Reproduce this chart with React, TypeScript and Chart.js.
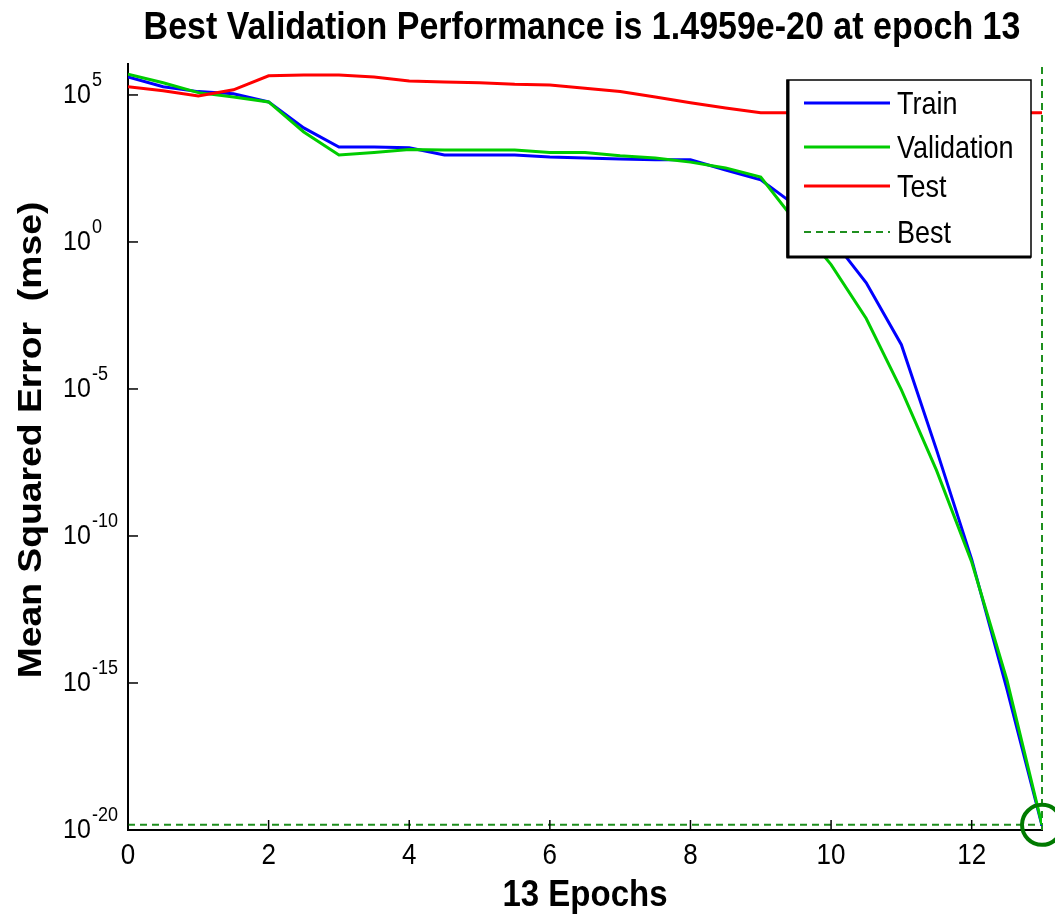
import React, { useEffect, useRef } from "react";
import { Chart, registerables } from "chart.js";

Chart.register(...registerables);

const epochs = [0, 0.5, 1, 1.5, 2, 2.5, 3, 3.5, 4, 4.5, 5, 5.5, 6, 6.5, 7, 7.5, 8, 8.5, 9, 9.5, 10, 10.5, 11, 11.5, 12, 12.5, 13];
const trainMse = [4.1e5, 1.9e5, 1.3e5, 1.1e5, 5.8e4, 7.6e3, 1.7e3, 1.7e3, 1.6e3, 9.1e2, 9.1e2, 9.1e2, 7.8e2, 7.2e2, 6.6e2, 6.3e2, 6.2e2, 2.8e2, 1.3e2, 17, 1.4, 4.1e-2, 3.2e-4, 8.5e-8, 1.6e-11, 6.3e-16, 1.4e-20];
const validationMse = [5.1e5, 2.6e5, 1.2e5, 8.5e4, 5.8e4, 5.5e3, 9.1e2, 1.1e3, 1.4e3, 1.35e3, 1.35e3, 1.35e3, 1.1e3, 1.1e3, 8.5e2, 7.2e2, 5.2e2, 3.3e2, 1.6e2, 4.8, 1.7e-1, 2.5e-3, 9.3e-6, 1.7e-8, 1.3e-11, 1.3e-15, 1.4959e-20];
const testMse = [1.9e5, 1.4e5, 9.3e4, 1.5e5, 4.5e5, 4.8e5, 4.8e5, 4.1e5, 3.0e5, 2.75e5, 2.6e5, 2.3e5, 2.2e5, 1.7e5, 1.3e5, 8.5e4, 5.4e4, 3.6e4, 2.5e4, 2.5e4, 2.5e4, 2.5e4, 2.5e4, 2.5e4, 2.5e4, 2.5e4, 2.5e4];
const bestEpoch = 13;
const bestPerf = 1.4959e-20;
const xTickValues = [0, 2, 4, 6, 8, 10, 12];
const yTickExponents = [5, 0, -5, -10, -15, -20];
const legendLabels = ["Train", "Validation", "Test", "Best"];
const titleText = "Best Validation Performance is 1.4959e-20 at epoch 13";
const xTitle = "13 Epochs";
const yTitle = "Mean Squared Error  (mse)";

const Y_MIN = 1e-20;
const Y_MAX = 1.13e6;
const SY = 1.13;
const FONT = '"Liberation Sans", Arial, sans-serif';

const BLUE = "#0000ff";
const GREEN = "#00cc00";
const RED = "#ff0000";
const BEST_GREEN = "#1f8f1f";
const CIRCLE_GREEN = "#007a00";

function txt(ctx: CanvasRenderingContext2D, s: string, x: number, y: number, font: string, align: CanvasTextAlign, baseline: CanvasTextBaseline, rotate = false) {
  ctx.save();
  ctx.translate(x, y);
  if (rotate) {
    ctx.rotate(-Math.PI / 2);
    ctx.scale(SY, 1);
  } else {
    ctx.scale(1, SY);
  }
  ctx.font = font;
  ctx.fillStyle = "#000";
  ctx.textAlign = align;
  ctx.textBaseline = baseline;
  ctx.fillText(s, 0, 0);
  ctx.restore();
}

const decorPlugin = {
  id: "decor",
  afterDraw(chart: any) {
    const ctx: CanvasRenderingContext2D = chart.ctx;
    const xs = chart.scales.x;
    const ys = chart.scales.y;
    const area = chart.chartArea;
    ctx.save();
    ctx.strokeStyle = "#000";
    ctx.lineWidth = 1.5;
    yTickExponents.forEach((e) => {
      const py = ys.getPixelForValue(Math.pow(10, e));
      ctx.beginPath();
      ctx.moveTo(area.left, py);
      ctx.lineTo(area.left + 10, py);
      ctx.stroke();
      txt(ctx, "10", 63, py, `25px ${FONT}`, "left", "middle");
      txt(ctx, String(e), 92, py - 9, `18px ${FONT}`, "left", "alphabetic");
    });
    xTickValues.forEach((v) => {
      const px = xs.getPixelForValue(v);
      ctx.beginPath();
      ctx.moveTo(px, area.bottom);
      ctx.lineTo(px, area.bottom - 10);
      ctx.stroke();
      txt(ctx, String(v), px, 856, `26px ${FONT}`, "center", "middle");
    });
    txt(ctx, titleText, 582, 28, `bold 34px ${FONT}`, "center", "middle");
    txt(ctx, xTitle, (area.left + area.right) / 2, 896, `bold 33px ${FONT}`, "center", "middle");
    txt(ctx, yTitle, 32, 440, `bold 33px ${FONT}`, "center", "middle", true);

    const L = 787, T = 80, R = 1031, B = 257;
    ctx.fillStyle = "#fff";
    ctx.fillRect(L, T, R - L, B - T);
    ctx.strokeStyle = "#000";
    ctx.lineWidth = 1.5;
    ctx.strokeRect(L, T, R - L, B - T);
    ctx.lineWidth = 3;
    ctx.beginPath();
    ctx.moveTo(L + 1, T);
    ctx.lineTo(L + 1, B);
    ctx.lineTo(R, B);
    ctx.stroke();
    const rowsY = [103, 147, 186, 232];
    const colors = [BLUE, GREEN, RED, BEST_GREEN];
    legendLabels.forEach((lab, i) => {
      ctx.save();
      ctx.strokeStyle = colors[i];
      ctx.lineWidth = i === 3 ? 2 : 3;
      if (i === 3) ctx.setLineDash([7, 5]);
      ctx.beginPath();
      ctx.moveTo(804, rowsY[i]);
      ctx.lineTo(890, rowsY[i]);
      ctx.stroke();
      ctx.restore();
      txt(ctx, lab, 897, rowsY[i] + 3, `27px ${FONT}`, "left", "middle");
    });
    ctx.restore();
  },
};

export default function App() {
  const ref = useRef<HTMLCanvasElement | null>(null);
  useEffect(() => {
    document.body.style.margin = "0";
    const pts = (vals: number[]) => epochs.map((x, i) => ({ x, y: vals[i] }));
    const chart = new Chart(ref.current as HTMLCanvasElement, {
      type: "line",
      data: {
        datasets: [
          {
            label: "BestPoint",
            data: [{ x: bestEpoch, y: bestPerf }],
            showLine: false,
            pointRadius: 20,
            pointBorderWidth: 4,
            pointBorderColor: CIRCLE_GREEN,
            pointBackgroundColor: "rgba(0,0,0,0)",
            clip: false as any,
          },
          { label: "Test", data: pts(testMse), borderColor: RED, borderWidth: 3, pointRadius: 0, tension: 0 },
          { label: "Validation", data: pts(validationMse), borderColor: GREEN, borderWidth: 3, pointRadius: 0, tension: 0 },
          { label: "Train", data: pts(trainMse), borderColor: BLUE, borderWidth: 3, pointRadius: 0, tension: 0 },
          {
            label: "BestH",
            data: [{ x: 0, y: bestPerf }, { x: bestEpoch, y: bestPerf }],
            borderColor: BEST_GREEN, borderWidth: 2, borderDash: [7, 5], pointRadius: 0,
          },
          {
            label: "BestV",
            data: [{ x: bestEpoch, y: Y_MIN }, { x: bestEpoch, y: Y_MAX }],
            borderColor: BEST_GREEN, borderWidth: 2, borderDash: [7, 5], pointRadius: 0,
            clip: false as any,
          },
        ] as any,
      },
      options: {
        animation: false,
        responsive: false,
        devicePixelRatio: 1,
        layout: { autoPadding: false, padding: { top: 64, right: 13, left: 0, bottom: 0 } },
        plugins: { legend: { display: false }, title: { display: false }, tooltip: { enabled: false } },
        scales: {
          x: {
            type: "linear",
            min: 0,
            max: 13,
            grid: { display: false },
            border: { display: true, color: "#000", width: 2 },
            ticks: { display: false },
            afterFit: (s: any) => { s.height = 86; },
          },
          y: {
            type: "logarithmic",
            min: Y_MIN,
            max: Y_MAX,
            grid: { display: false },
            border: { display: true, color: "#000", width: 2 },
            ticks: { display: false },
            afterFit: (s: any) => { s.width = 128; },
          },
        },
      } as any,
      plugins: [decorPlugin],
    });
    return () => chart.destroy();
  }, []);
  return (
    <div style={{ width: 1055, height: 916, background: "#fff" }}>
      <canvas ref={ref} width={1055} height={916} />
    </div>
  );
}
